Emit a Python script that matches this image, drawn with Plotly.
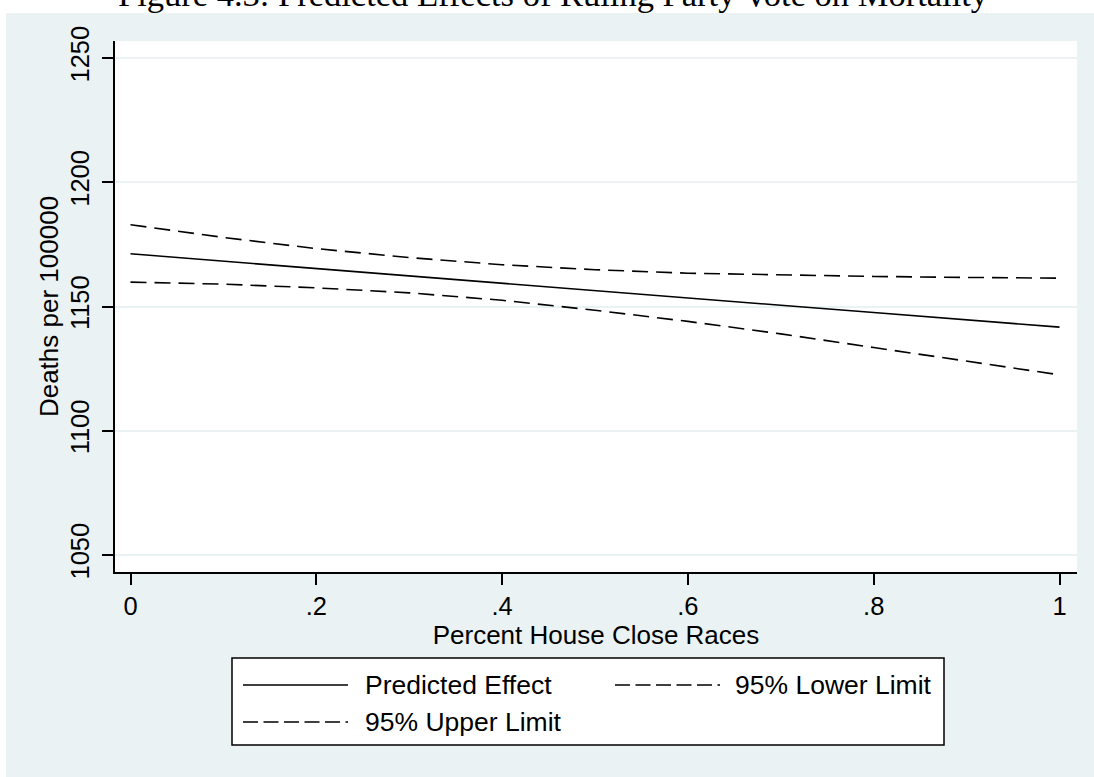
import plotly.graph_objects as go

# ---- data ----
x_vals = [0.0, 0.1, 0.2, 0.3, 0.4, 0.5, 0.6, 0.7, 0.8, 0.9, 1.0]
predicted = [1171.2, 1168.2, 1165.3, 1162.3, 1159.4, 1156.4, 1153.5, 1150.5, 1147.6, 1144.6, 1141.7]
upper95 = [1182.9, 1177.8, 1173.3, 1169.7, 1166.8, 1164.8, 1163.4, 1162.6, 1162.1, 1161.7, 1161.4]
lower95 = [1159.8, 1159.0, 1157.5, 1155.5, 1152.5, 1148.5, 1144.0, 1139.0, 1133.5, 1128.0, 1122.5]

x_ticks = [0, 0.2, 0.4, 0.6, 0.8, 1.0]
x_ticktext = ["0", ".2", ".4", ".6", ".8", "1"]
y_ticks = [1050, 1100, 1150, 1200, 1250]
y_ticktext = ["1050", "1100", "1150", "1200", "1250"]

title_text = "Figure 4.3: Predicted Effects of Ruling Party Vote on Mortality"
x_title = "Percent House Close Races"
y_title = "Deaths per 100000"
legend_names = ["Predicted Effect", "95% Lower Limit", "95% Upper Limit"]

# ---- layout geometry ----
W, H = 1094, 777
L, R, T, B = 115, 17, 41, 205
PW, PH = W - L - R, H - T - B
BG = "#EAF2F3"
SANS = "Liberation Sans, Arial, sans-serif"
PLOT_DASH = "16px,8px"
LEG_DASH = "15px,5.5px"


def px(xp):
    return (xp - L) / PW


def py(yp):
    return (H - B - yp) / PH


fig = go.Figure()
fig.add_trace(go.Scatter(x=x_vals, y=predicted, mode="lines", name=legend_names[0],
                         line=dict(color="black", width=1.6)))
fig.add_trace(go.Scatter(x=x_vals, y=lower95, mode="lines", name=legend_names[1],
                         line=dict(color="black", width=1.6, dash=PLOT_DASH)))
fig.add_trace(go.Scatter(x=x_vals, y=upper95, mode="lines", name=legend_names[2],
                         line=dict(color="black", width=1.6, dash=PLOT_DASH)))

LEG_X0, LEG_X1, LEG_Y0, LEG_Y1 = 232, 944, 658, 745
ROW1, ROW2 = 685, 722
COL1_S, COL1_T = 243, 365
COL2_S, COL2_T = 615, 735
SAMPLE_LEN = 105

shapes = [
    # white strips outside the grey graph region
    dict(type="rect", xref="paper", yref="paper", x0=px(0), x1=px(W), y0=py(13), y1=py(0),
         fillcolor="white", line=dict(width=0), layer="below"),
    dict(type="rect", xref="paper", yref="paper", x0=px(0), x1=px(6), y0=py(H), y1=py(0),
         fillcolor="white", line=dict(width=0), layer="below"),
    # legend box
    dict(type="rect", xref="paper", yref="paper", x0=px(LEG_X0), x1=px(LEG_X1),
         y0=py(LEG_Y1), y1=py(LEG_Y0),
         fillcolor="white", line=dict(color="black", width=1.5)),
    # legend samples
    dict(type="line", xref="paper", yref="paper", x0=px(COL1_S), x1=px(COL1_S + SAMPLE_LEN),
         y0=py(ROW1), y1=py(ROW1), line=dict(color="black", width=1.6)),
    dict(type="line", xref="paper", yref="paper", x0=px(COL2_S), x1=px(COL2_S + SAMPLE_LEN),
         y0=py(ROW1), y1=py(ROW1), line=dict(color="black", width=1.6, dash=LEG_DASH)),
    dict(type="line", xref="paper", yref="paper", x0=px(COL1_S), x1=px(COL1_S + SAMPLE_LEN),
         y0=py(ROW2), y1=py(ROW2), line=dict(color="black", width=1.6, dash=LEG_DASH)),
]

leg_font = dict(family=SANS, size=26.5, color="black")
annotations = [
    dict(text=title_text, xref="paper", yref="paper", x=px(553), y=py(-6), xanchor="center",
         yanchor="middle", showarrow=False,
         font=dict(family="Liberation Serif, Times New Roman, serif", size=34.5, color="black")),
    dict(text=legend_names[0], xref="paper", yref="paper", x=px(COL1_T - 2), y=py(ROW1),
         xanchor="left", yanchor="middle", showarrow=False, font=leg_font),
    dict(text=legend_names[1], xref="paper", yref="paper", x=px(COL2_T - 2), y=py(ROW1),
         xanchor="left", yanchor="middle", showarrow=False, font=leg_font),
    dict(text=legend_names[2], xref="paper", yref="paper", x=px(COL1_T - 2), y=py(ROW2),
         xanchor="left", yanchor="middle", showarrow=False, font=leg_font),
]

fig.update_layout(
    width=W, height=H,
    margin=dict(l=L, r=R, t=T, b=B, pad=0),
    paper_bgcolor=BG,
    plot_bgcolor="white",
    showlegend=False,
    shapes=shapes,
    annotations=annotations,
    font=dict(family=SANS, color="black"),
)

fig.update_xaxes(
    range=[-0.01668, 1.01884], tickvals=x_ticks, ticktext=x_ticktext,
    showgrid=False, zeroline=False, showline=True, linecolor="black", linewidth=1.5,
    ticks="outside", ticklen=11, tickwidth=1.5, tickcolor="black",
    tickfont=dict(family=SANS, size=25.5, color="black"), ticklabelstandoff=0,
    title=dict(text=x_title, font=dict(family=SANS, size=26, color="black"), standoff=0),
)
fig.update_yaxes(
    range=[1043.16, 1256.84], tickvals=y_ticks, ticktext=y_ticktext, tickangle=-90,
    showgrid=True, gridcolor=BG, gridwidth=1.5, zeroline=False,
    showline=True, linecolor="black", linewidth=1.5,
    ticks="outside", ticklen=11, tickwidth=1.5, tickcolor="black",
    tickfont=dict(family=SANS, size=25.5, color="black"), ticklabelstandoff=3,
    title=dict(text=y_title, font=dict(family=SANS, size=26, color="black"), standoff=0),
)

fig.write_html(
    "out.html",
    config={"displayModeBar": False},
    post_script="document.body.style.margin='0';document.body.style.overflow='hidden';",
)
